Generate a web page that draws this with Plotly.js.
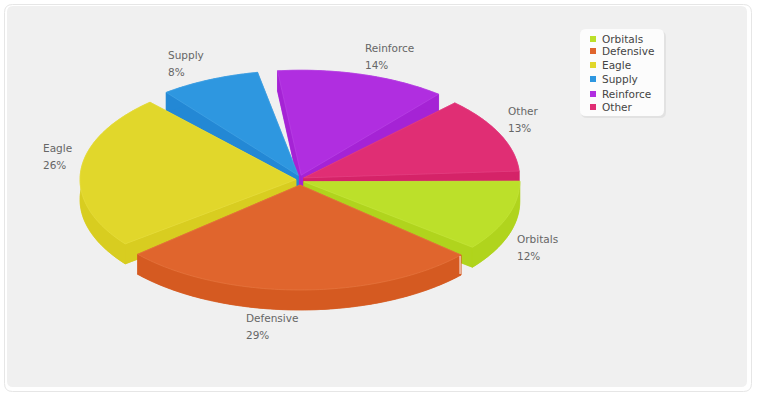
<!DOCTYPE html>
<html><head><meta charset="utf-8">
<script src="https://cdn.plot.ly/plotly-3.0.1.min.js"></script>
<style>html,body{margin:0;padding:0;background:#fff}#c{width:760px;height:400px}</style>
</head><body><div id="c"></div>
<script>
// ---- data ----
const categories = ['Orbitals','Defensive','Eagle','Supply','Reinforce','Other'];
const percentLabels = [12,29,26,8,14,13];          // printed labels
const sliceShares = [11.73,27.85,24.83,8.76,14.04,12.79]; // share of the circle each slice occupies as drawn
const topColors  = ['#bce02a','#e0652d','#e1d72b','#2e97e0','#b02ee0','#e02e74'];
const sideColors = ['#b0d41d','#d55a21','#d8cd20','#2388d5','#a523d5','#d52368'];
const edgeColors = ['#c6e640','#e87a45','#e8df45','#48a6e6','#bb48e6','#e64888'];
const drawOrder = [4,3,5,2,0,1];                   // back to front
const gapAfter = [3.1,3.5,4.8,4.6,4.9,3.5];        // angular gap following each slice, degrees
const labelAnchors = [[515,239,256],[244,318,335],[41,148,165],[166,55,72],[363,48,65],[506,111,128]];
const legendRowY = [39,51,65,79,94,107];

// ---- projection of the tilted pie ----
const cx=300, cy=180, rx=216, ry=105, depth=20, startDeg=-2, ex=4, ey=5;
const rad=d=>d*Math.PI/180;
let cum=startDeg;
const slices=categories.map((n,i)=>{
  const before=gapAfter[(i+5)%6];
  const a0=cum+before/2, a1=cum+sliceShares[i]*3.6-gapAfter[i]/2;
  cum+=sliceShares[i]*3.6;
  const m=rad((a0+a1)/2);
  return {i,a0,a1,ax:cx+ex*Math.cos(m),ay:cy+ey*Math.sin(m)};
});
function rim(s,dy){
  const xs=[],ys=[];
  for(let a=s.a0;a<s.a1+1e-6;a+=Math.min(1,(s.a1-s.a0))){
    xs.push(s.ax+rx*Math.cos(rad(a)));ys.push(s.ay+ry*Math.sin(rad(a))+dy);
  }
  xs.push(s.ax+rx*Math.cos(rad(s.a1)));ys.push(s.ay+ry*Math.sin(rad(s.a1))+dy);
  return {xs,ys};
}
const poly=(x,y,color,lineColor,w)=>({type:'scatter',mode:'lines',x,y,fill:'toself',fillcolor:color,
  line:{color:lineColor||color,width:w===undefined?0.5:w,simplify:false},hoverinfo:'skip',showlegend:false});
const traces=[];
drawOrder.forEach(idx=>{
  const s=slices[idx],c=sideColors[idx];
  const t=rim(s,0),b=rim(s,depth);
  const n=t.xs.length-1;
  // bottom face, radial faces, outer wall
  traces.push(poly([s.ax,...b.xs,s.ax],[s.ay+depth,...b.ys,s.ay+depth],c));
  traces.push(poly([s.ax,t.xs[0],b.xs[0],s.ax,s.ax],[s.ay,t.ys[0],b.ys[0],s.ay+depth,s.ay],c));
  traces.push(poly([s.ax,t.xs[n],b.xs[n],s.ax,s.ax],[s.ay,t.ys[n],b.ys[n],s.ay+depth,s.ay],c));
  traces.push(poly([...t.xs,...b.xs.slice().reverse(),t.xs[0]],[...t.ys,...b.ys.slice().reverse(),t.ys[0]],c));
  // top face
  traces.push(poly([s.ax,...t.xs,s.ax],[s.ay,...t.ys,s.ay],topColors[idx],edgeColors[idx],0.6));
});
// thin light sliver at the right end of the Defensive wall
{
  const s=slices[1],t=rim(s,0),b=rim(s,depth);
  traces.push({type:'scatter',mode:'lines',x:[t.xs[0]-1,b.xs[0]-1],y:[t.ys[0]+1,b.ys[0]-1],
    line:{color:'#ffffff',width:1},hoverinfo:'skip',showlegend:false});
}
// legend swatches
traces.push({type:'scatter',mode:'markers',x:categories.map(()=>593),y:legendRowY,
  marker:{symbol:'square',size:6,color:topColors,line:{width:0}},hoverinfo:'skip',showlegend:false});

const font='"DejaVu Sans", sans-serif';
const annotations=[];
categories.forEach((n,i)=>{
  const [x,y1,y2]=labelAnchors[i];
  const base={xref:'x',yref:'y',x,showarrow:false,xanchor:'left',yanchor:'middle',
    font:{family:font,size:10.5,color:'#666666'}};
  annotations.push({...base,y:y1,text:n});
  annotations.push({...base,y:y2,text:percentLabels[i]+'%'});
  annotations.push({xref:'x',yref:'y',x:600,y:legendRowY[i],showarrow:false,xanchor:'left',yanchor:'middle',
    text:n,font:{family:font,size:10.5,color:'#444444'}});
});
function rr(x0,y0,x1,y1,r){
  return `M${x0+r},${y0} L${x1-r},${y0} Q${x1},${y0} ${x1},${y0+r} L${x1},${y1-r} Q${x1},${y1} ${x1-r},${y1} L${x0+r},${y1} Q${x0},${y1} ${x0},${y1-r} L${x0},${y0+r} Q${x0},${y0} ${x0+r},${y0} Z`;
}
const shape=(path,fill,line)=>({type:'path',path,xref:'x',yref:'y',layer:'below',fillcolor:fill,
  line:{color:line||fill,width:line?1:0}});
const shapes=[
  shape(rr(4.5,4.5,751.5,391.5,8),'#ffffff','#e6e6e6'),
  shape(rr(7,6,747,387,6),'#f0f0f0'),
  shape(rr(581,31,666,118,6),'#e2e2e2'),
  shape(rr(580,29,664,116,6),'#fcfcfc')
];
Plotly.newPlot('c',traces,{
  width:760,height:400,margin:{l:0,r:0,t:0,b:0},paper_bgcolor:'#ffffff',plot_bgcolor:'rgba(0,0,0,0)',
  xaxis:{range:[0,760],visible:false,fixedrange:true},
  yaxis:{range:[400,0],visible:false,fixedrange:true},
  showlegend:false,shapes,annotations,hovermode:false
},{displayModeBar:false,staticPlot:true});
</script></body></html>
